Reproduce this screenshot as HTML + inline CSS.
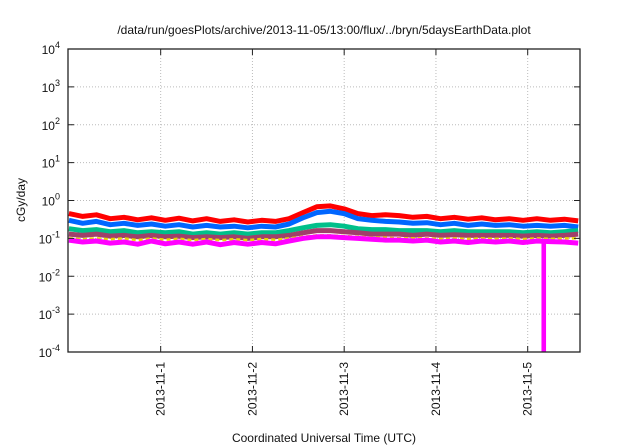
<!DOCTYPE html>
<html><head><meta charset="utf-8"><style>
body{margin:0;background:#fff;}
svg{display:block;font-family:"Liberation Sans",sans-serif;}
</style></head><body>
<svg id="chart" width="640" height="448" viewBox="0 0 640 448">
<rect width="640" height="448" fill="#fff"/>
<text x="324" y="34" font-size="12" text-anchor="middle" fill="#111">/data/run/goesPlots/archive/2013-11-05/13:00/flux/../bryn/5daysEarthData.plot</text>
<g id="grid"></g>
<g id="series"></g>
<g id="axes"></g>
<text transform="translate(25,200) rotate(-90)" font-size="12" text-anchor="middle" fill="#111">cGy/day</text>
<text x="324" y="442" font-size="12" text-anchor="middle" fill="#111">Coordinated Universal Time (UTC)</text>
</svg>
<script>
const times=[0,0.15,0.3,0.45,0.6,0.75,0.9,1.05,1.2,1.35,1.5,1.65,1.8,1.95,2.1,2.25,2.4,2.55,2.7,2.85,3,3.15,3.3,3.45,3.6,3.75,3.9,4.05,4.2,4.35,4.5,4.65,4.8,4.95,5.1,5.25,5.4,5.55];
const redVals=[.45,.38,.42,.33,.36,.31,.35,.3,.34,.29,.33,.28,.31,.27,.3,.28,.33,.48,.68,.72,.6,.45,.4,.42,.4,.36,.38,.33,.36,.32,.35,.31,.33,.3,.33,.3,.32,.29];
const blueVals=[.3,.25,.28,.23,.25,.22,.24,.21,.23,.2,.22,.2,.21,.19,.21,.2,.24,.35,.48,.52,.45,.33,.3,.28,.27,.25,.26,.23,.25,.22,.24,.22,.23,.21,.22,.21,.22,.2];
const greenVals=[.18,.16,.17,.15,.16,.14,.15,.14,.15,.13,.14,.13,.14,.13,.14,.14,.16,.19,.22,.23,.21,.18,.17,.17,.16,.16,.16,.15,.16,.15,.15,.15,.15,.14,.15,.14,.15,.16];
const brownVals=[.13,.12,.13,.115,.12,.11,.12,.11,.115,.105,.11,.105,.11,.1,.11,.11,.12,.14,.16,.16,.15,.14,.13,.13,.13,.12,.13,.12,.125,.12,.12,.12,.12,.115,.12,.115,.12,.13];
const yellowVals=[.1,.095,.1,.095,.1,.09,.1,.092,.098,.09,.096,.09,.095,.09,.096,.092,.1,.11,.12,.12,.115,.11,.105,.105,.1,.1,.1,.097,.1,.097,.1,.097,.1,.096,.1,.097,.1,.1];
const magentaVals=[.09,.08,.085,.075,.08,.07,.085,.072,.08,.07,.08,.068,.078,.07,.078,.072,.085,.1,.11,.11,.105,.1,.095,.09,.09,.085,.09,.08,.085,.078,.085,.08,.085,.078,.085,.082,.08,.075];
const dropStart=5.15, dropEnd=5.2, dropMin=1e-4;
const yTickExp=[-4,-3,-2,-1,0,1,2,3,4];
const xTickDays=[1,2,3,4,5];
const xTickLabels=["2013-11-1","2013-11-2","2013-11-3","2013-11-4","2013-11-5"];

const L=68,R=580,T=49,B=352,X0=-0.01,X1=5.57;
const xs=t=>L+(t-X0)/(X1-X0)*(R-L);
const ys=v=>B-(Math.log10(v)+4)/8*(B-T);
const NS="http://www.w3.org/2000/svg";
function mk(tag,attrs,parent){const e=document.createElementNS(NS,tag);for(const k in attrs)e.setAttribute(k,attrs[k]);parent.appendChild(e);return e;}
const grid=document.getElementById('grid'),axes=document.getElementById('axes'),ser=document.getElementById('series');
yTickExp.forEach(ex=>{
  const y=ys(Math.pow(10,ex));
  if(ex>-4&&ex<4){const g=mk('line',{x1:L,x2:R,y1:y,y2:y,stroke:'#bbb','stroke-dasharray':'1,2','stroke-width':1},grid);
  
  }
  const tk=mk('path',{d:`M${L},${y}h6M${R},${y}h-6`,stroke:'#222','stroke-width':1},axes);
  
  
  const t=mk('text',{x:L-8,y:y+5,'font-size':12,'text-anchor':'end',fill:'#111'},axes);
  
  
  t.textContent='10';
  const s=mk('tspan',{dy:-6,'font-size':9},t);s.textContent=String(ex);
});
xTickDays.forEach((d,i)=>{
  const x=xs(d);
  const g=mk('line',{x1:x,x2:x,y1:T,y2:B,stroke:'#bbb','stroke-dasharray':'1,2','stroke-width':1},grid);
  
  
  const tk=mk('path',{d:`M${x},${B}v-6M${x},${T}v6`,stroke:'#222','stroke-width':1},axes);
  
  
  const t=mk('text',{transform:`translate(${x+4},${B+10}) rotate(-90)`,'font-size':12,'text-anchor':'end',fill:'#111'},axes);
  
  
  t.textContent=xTickLabels[i];
});
const fr=mk('rect',{x:L,y:T,width:R-L,height:B-T,fill:'none',stroke:'#222','stroke-width':1.3},axes);


const series=[['magenta-drop',null,'#ff00ff'],['magenta-series',magentaVals,'#ff00ff'],['yellow-series',yellowVals,'#e8d800'],['brown-series',brownVals,'#a0406a'],['green-series',greenVals,'#00c08a'],['blue-series',blueVals,'#0066ff'],['red-series',redVals,'#ff0000']];
series.reverse().forEach(([n,vals,c])=>{
  if(!vals){
    const r=mk('rect',{x:xs(dropStart),y:ys(0.08),width:xs(dropEnd)-xs(dropStart),height:ys(dropMin)-ys(0.08),fill:c},ser);
    
    
    return;
  }
  const d=vals.map((v,i)=>(i?'L':'M')+xs(times[i]).toFixed(1)+','+ys(v).toFixed(1)).join('');
  const p=mk('path',{d:d,fill:'none',stroke:c,'stroke-width':n==='yellow-series'?2.5:5,'stroke-linejoin':'round','stroke-dasharray':n==='yellow-series'?'4,3':'none'},ser);
  
  
});
</script>
</body></html>
